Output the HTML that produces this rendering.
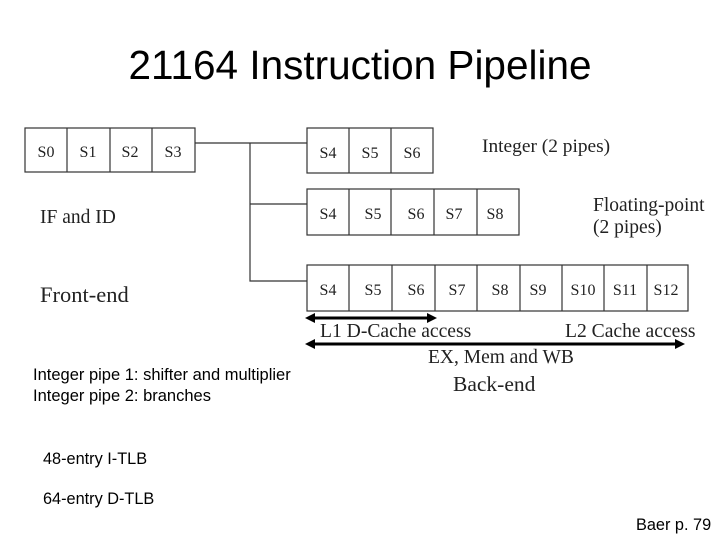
<!DOCTYPE html>
<html><head><style>
body{margin:0;width:720px;height:540px;background:#fff;position:relative;overflow:hidden;font-family:"Liberation Serif",serif;color:#222}
.a{position:absolute;white-space:nowrap}
.s{font-family:"Liberation Sans",sans-serif;color:#000}
</style></head><body>
<div class="a s" style="left:0;width:720px;text-align:center;top:42px;font-size:40.5px">21164 Instruction Pipeline</div>
<svg class="a" style="left:0;top:0" width="720" height="540">
<g fill="none" stroke="#333" stroke-width="1.2">
<rect x="25" y="128" width="170" height="44"/>
<line x1="67" y1="128" x2="67" y2="172"/><line x1="110" y1="128" x2="110" y2="172"/><line x1="152" y1="128" x2="152" y2="172"/>
<polyline points="195,143 307,143"/>
<polyline points="250,143 250,281 307,281"/>
<line x1="250" y1="204" x2="307" y2="204"/>
<rect x="307" y="128" width="126" height="45"/>
<line x1="349" y1="128" x2="349" y2="173"/><line x1="391" y1="128" x2="391" y2="173"/>
<rect x="307" y="189" width="212" height="46"/>
<line x1="349" y1="189" x2="349" y2="235"/><line x1="391" y1="189" x2="391" y2="235"/><line x1="434" y1="189" x2="434" y2="235"/><line x1="477" y1="189" x2="477" y2="235"/>
<rect x="307" y="265" width="381" height="46"/>
<line x1="349" y1="265" x2="349" y2="311"/><line x1="392" y1="265" x2="392" y2="311"/><line x1="435" y1="265" x2="435" y2="311"/><line x1="477" y1="265" x2="477" y2="311"/><line x1="520" y1="265" x2="520" y2="311"/><line x1="562" y1="265" x2="562" y2="311"/><line x1="604" y1="265" x2="604" y2="311"/><line x1="647" y1="265" x2="647" y2="311"/>
</g>
<g stroke="#000" stroke-width="3">
<line x1="312" y1="318" x2="430" y2="318"/><line x1="312" y1="344" x2="678" y2="344"/>
</g>
<g fill="#000">
<polygon points="305,318 315,313 315,323"/><polygon points="437,318 427,313 427,323"/>
<polygon points="305,344 315,339 315,349"/><polygon points="685,344 675,339 675,349"/>
</g>
<g font-family="Liberation Serif,serif" font-size="16" fill="#222" text-anchor="middle">
<text x="46" y="157">S0</text><text x="88" y="157">S1</text><text x="130" y="157">S2</text><text x="173" y="157">S3</text>
<text x="328" y="158">S4</text><text x="370" y="158">S5</text><text x="412" y="158">S6</text>
<text x="328" y="219">S4</text><text x="373" y="219">S5</text><text x="416" y="219">S6</text><text x="454" y="219">S7</text><text x="495" y="219">S8</text>
<text x="328" y="295">S4</text><text x="373" y="295">S5</text><text x="416" y="295">S6</text><text x="457" y="295">S7</text><text x="500" y="295">S8</text><text x="538" y="295">S9</text><text x="583" y="295">S10</text><text x="625" y="295">S11</text><text x="666" y="295">S12</text>
</g>
</svg>
<div class="a" style="left:482px;top:136px;font-size:19.4px">Integer (2 pipes)</div>
<div class="a" style="left:593px;top:195px;font-size:19.5px;line-height:22px">Floating-point<br>(2 pipes)</div>
<div class="a" style="left:40px;top:207px;font-size:19.5px">IF and ID</div>
<div class="a" style="left:40px;top:282px;font-size:22.5px">Front-end</div>
<div class="a" style="left:320px;top:321px;font-size:19.6px">L1 D-Cache access</div>
<div class="a" style="left:565px;top:321px;font-size:19.6px">L2 Cache access</div>
<div class="a" style="left:428px;top:347px;font-size:19.5px">EX, Mem and WB</div>
<div class="a" style="left:453px;top:372px;font-size:21.5px">Back-end</div>
<div class="a s" style="left:33px;top:365px;font-size:16.5px;line-height:21px">Integer pipe 1: shifter and multiplier<br>Integer pipe 2: branches</div>
<div class="a s" style="left:43px;top:450px;font-size:16.3px">48-entry I-TLB</div>
<div class="a s" style="left:43px;top:490px;font-size:16.3px">64-entry D-TLB</div>
<div class="a s" style="left:636px;top:516px;font-size:16.3px">Baer p. 79</div>
</body></html>
